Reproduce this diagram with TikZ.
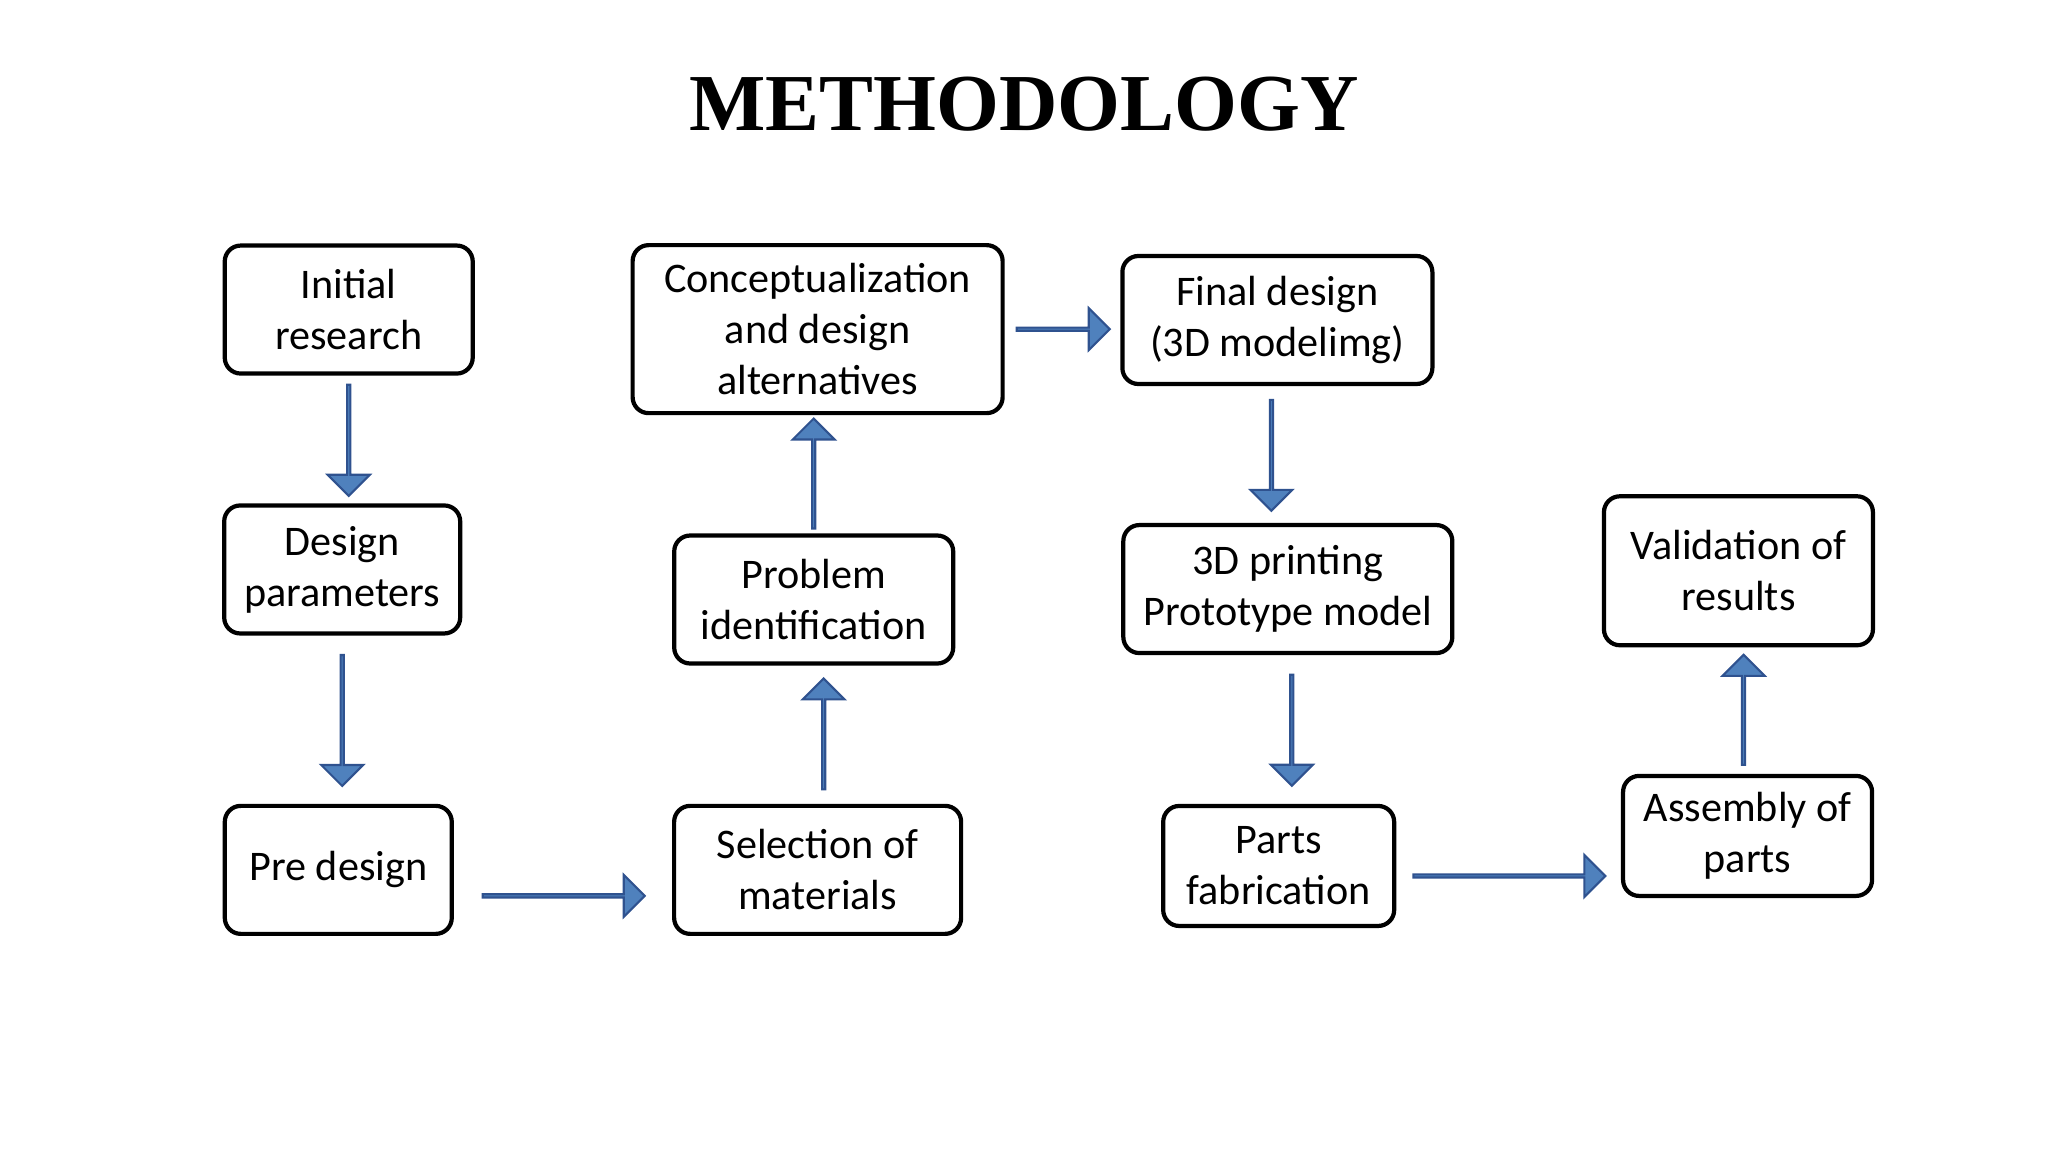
\documentclass[tikz,border=0pt]{standalone}
\usepackage{fontspec}
\setmainfont{Carlito}
\newfontfamily\titlefont{Liberation Serif}
\usetikzlibrary{shapes.arrows, positioning}
\definecolor{arrfill}{HTML}{4F81BD}
\definecolor{arrdraw}{HTML}{2F528F}
\tikzset{box/.style = {draw, rounded corners = 0.16cm, line width = 1.2pt,
                       align = center, font = \fontsize{12}{14.5}\selectfont},
         arr/.style = {single arrow, draw = arrdraw, fill = arrfill, line width = 0.6pt,
                       minimum width = 0.42cm, single arrow head extend = 0.13cm,
                       single arrow head indent = 0pt, inner sep = 0pt, sloped}}

\begin{document}
\begin{tikzpicture}[x = 0.01306cm, y = -0.01306cm]
    \useasboundingbox (0,0) rectangle (1568,882);
    \node[font = \titlefont\bfseries\fontsize{23}{26}\selectfont] (title) at (784,80) {METHODOLOGY};

    \node[box, minimum width = 2.48cm, minimum height = 1.28cm] (ir) at (267,237) {Initial\\research};
    \node[box, minimum width = 2.36cm, minimum height = 1.28cm] (dp) at (262,436) {Design\\parameters};
    \node[box, minimum width = 2.27cm, minimum height = 1.28cm] (pd) at (259,666) {Pre design};
    \node[box, minimum width = 2.87cm, minimum height = 1.28cm] (sm) at (626,666) {Selection of\\materials};
    \node[box, minimum width = 2.79cm, minimum height = 1.28cm] (pi) at (623,459) {Problem\\identification};
    \node[box, minimum width = 3.70cm, minimum height = 1.68cm] (ca) at (626,252) {Conceptualization\\and design\\alternatives};
    \node[box, minimum width = 3.10cm, minimum height = 1.28cm] (fd) at (978,245) {Final design\\(3D modelimg)};
    \node[box, minimum width = 3.29cm, minimum height = 1.28cm] (pp) at (986,451) {3D printing\\Prototype model};
    \node[box, minimum width = 2.31cm, minimum height = 1.20cm] (pf) at (979,663) {Parts\\fabrication};
    \node[box, minimum width = 2.49cm, minimum height = 1.20cm] (ap) at (1338,640) {Assembly of\\parts};
    \node[box, minimum width = 2.69cm, minimum height = 1.49cm] (vr) at (1331,437) {Validation of\\results};

    \path (ir.south) -- (ir.south |- dp.north) node[midway, arr, minimum height = 1.11cm] {};
    \path (dp.south) -- (dp.south |- pd.north) node[midway, arr, minimum height = 1.31cm] {};
    \path (pd.east) -- (pd.east -| sm.west) node[midway, arr, minimum height = 1.62cm, yshift = -0.26cm] {};
    \path (sm.north) -- (sm.north |- pi.south) node[midway, arr, minimum height = 1.11cm, yshift = -0.06cm] {};
    \path (pi.north) -- (pi.north |- ca.south) node[midway, arr, minimum height = 1.10cm] {};
    \path (ca.east) -- (ca.east -| fd.west) node[midway, arr, minimum height = 0.93cm] {};
    \path (fd.south) -- (fd.south |- pp.north) node[midway, arr, minimum height = 1.11cm, yshift = -0.06cm] {};
    \path (pp.south) -- (pp.south |- pf.north) node[midway, arr, minimum height = 1.11cm, yshift = 0.04cm] {};
    \path (pf.east) -- (pf.east -| ap.west) node[midway, arr, minimum height = 1.92cm, yshift = -0.1cm] {};
    \path (ap.north) -- (ap.north |- vr.south) node[midway, arr, minimum height = 1.10cm, yshift = 0.04cm] {};
\end{tikzpicture}
\end{document}
